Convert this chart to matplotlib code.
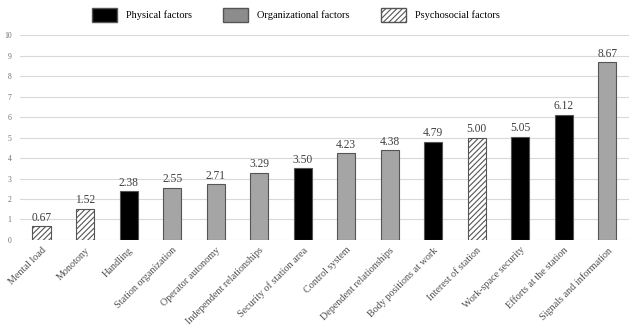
import matplotlib.pyplot as plt
from matplotlib.patches import Patch

categories = ['Mental load', 'Monotony', 'Handling', 'Station organization',
              'Operator autonomy', 'Independent relationships',
              'Security of station area', 'Control system',
              'Dependent relationships', 'Body positions at work',
              'Interest of station', 'Work-space security',
              'Efforts at the station', 'Signals and information']
values = [0.67, 1.52, 2.38, 2.55, 2.71, 3.29, 3.50, 4.23, 4.38, 4.79,
          5.00, 5.05, 6.12, 8.67]
groups = ['psy', 'psy', 'phy', 'org', 'org', 'org', 'phy', 'org', 'org',
          'phy', 'psy', 'phy', 'phy', 'org']

plt.rcParams['font.family'] = ['Liberation Serif', 'DejaVu Serif']
plt.rcParams['hatch.color'] = '#595959'
plt.rcParams['hatch.linewidth'] = 0.8

styles = {
    'phy': dict(facecolor='black', hatch=None),
    'org': dict(facecolor='#a5a5a5', hatch=None),
    'psy': dict(facecolor='white', hatch='//////'),
}

fig = plt.figure(figsize=(6.4, 3.31), dpi=100)
ax = fig.add_axes([0.031, 0.275, 0.952, 0.619])

x = list(range(len(categories)))
for i, (v, g) in enumerate(zip(values, groups)):
    ax.bar(i, v, width=0.42, edgecolor='#555555', linewidth=0.8,
           zorder=3, **styles[g])
    ax.text(i, v + 0.12, f'{v:.2f}', ha='center', va='bottom',
            fontsize=8.3, color='#404040')

ax.set_ylim(0, 10)
ax.set_xlim(-0.5, len(categories) - 0.5)
ax.set_yticks(range(0, 11))
ax.tick_params(axis='y', labelsize=5.5, colors='#707070', length=0, pad=6)
ax.set_xticks(x)
ax.set_xticklabels(categories, rotation=45, ha='right', rotation_mode='anchor',
                   fontsize=7.3, color='#505050')
ax.tick_params(axis='x', length=0, pad=4)
ax.grid(axis='y', color='#d9d9d9', linewidth=0.8, zorder=0)
for s in ax.spines.values():
    s.set_visible(False)

handles = [Patch(facecolor='black', edgecolor='#555555', label='Physical factors'),
           Patch(facecolor='#8c8c8c', edgecolor='#555555', label='Organizational factors'),
           Patch(facecolor='white', edgecolor='#555555', hatch='//////',
                 label='Psychosocial factors')]
fig.legend(handles=handles, loc='center', bbox_to_anchor=(0.462, 0.955),
           ncol=3, frameon=False, fontsize=7.5, handlelength=2.4, handleheight=1.6,
           columnspacing=3.0, handletextpad=0.85)

fig.savefig('out.png', dpi=100)
